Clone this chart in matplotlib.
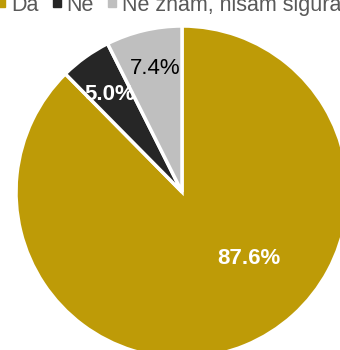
import matplotlib
matplotlib.use("Agg")
import matplotlib.pyplot as plt
from matplotlib.lines import Line2D

categories = ["Da", "Ne", "Ne znam, nisam sigura(n)"]
values = [87.6, 5.0, 7.4]
labels = ["87.6%", "5.0%", "7.4%"]
colors = ["#BE9B07", "#262626", "#BFBFBF"]
label_colors = ["white", "white", "black"]
label_weights = ["bold", "bold", "normal"]
# label offsets from pie center (in pixels)
label_offsets = [(67, -66), (-72, 97), (-27, 124)]

plt.rcParams['font.family'] = ['Liberation Sans', 'DejaVu Sans']

fig = plt.figure(figsize=(3.4, 3.5), dpi=100)
ax = fig.add_axes([0, 0, 1, 1])

cx, cy, r = 182, 158, 166
wedges, _ = ax.pie(values, colors=colors, startangle=90, counterclock=False,
                   center=(cx, cy), radius=r, frame=True,
                   wedgeprops=dict(edgecolor='white', linewidth=2.5))
ax.set_xlim(0, 340)
ax.set_ylim(0, 350)
ax.set_aspect('equal')
ax.axis('off')

for lab, (dx, dy), c, w in zip(labels, label_offsets, label_colors, label_weights):
    ax.text(cx + dx, cy + dy, lab, color=c, fontweight=w, fontsize=16,
            ha='center', va='center')

handles = [Line2D([0], [0], marker='s', linestyle='none', markersize=5.5,
                  markerfacecolor=c, markeredgecolor=c) for c in colors]
leg = fig.legend(handles, categories, loc='upper left', bbox_to_anchor=(-0.072, 1.07),
                 ncol=3, frameon=False, fontsize=15.5, handlelength=0.6,
                 handletextpad=0.15, columnspacing=0.55, labelcolor='#595959')

fig.savefig("out.png", dpi=100)
